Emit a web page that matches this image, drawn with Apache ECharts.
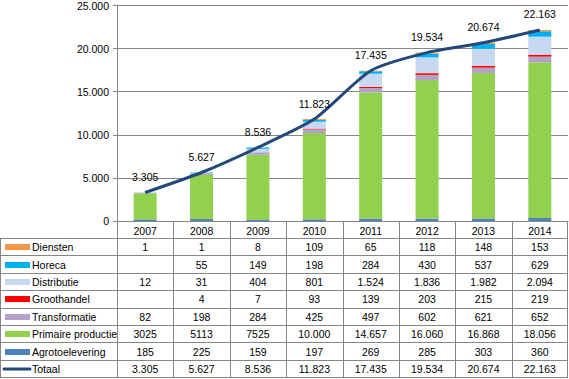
<!DOCTYPE html>
<html><head><meta charset="utf-8">
<script src="https://cdn.jsdelivr.net/npm/echarts@6/dist/echarts.min.js"></script>
<style>html,body{margin:0;padding:0;background:#fff}#c{width:569px;height:379px}</style>
</head><body><div id="c"></div>
<script>
// ---- data ----
const years = ['2007','2008','2009','2010','2011','2012','2013','2014'];
const diensten        = [1, 1, 8, 109, 65, 118, 148, 153];
const horeca          = [null, 55, 149, 198, 284, 430, 537, 629];
const distributie     = [12, 31, 404, 801, 1524, 1836, 1982, 2094];
const groothandel     = [null, 4, 7, 93, 139, 203, 215, 219];
const transformatie   = [82, 198, 284, 425, 497, 602, 621, 652];
const primaire        = [3025, 5113, 7525, 10000, 14657, 16060, 16868, 18056];
const agrotoelevering = [185, 225, 159, 197, 269, 285, 303, 360];
const totaal          = [3305, 5627, 8536, 11823, 17435, 19534, 20674, 22163];
const yMin = 0, yMax = 25000, yStep = 5000;

// ---- styling ----
const FONT = '"Liberation Sans", Arial, sans-serif';
const FS = 10.5;
const GRAY = '#868686';
const labelShift = [[8,-4],[0,0],[0,0],[8,-1],[8,-5],[0,0],[0,0],[0,0]];

function fmt(v){ if(v==null) return ''; return String(v).replace(/\B(?=(\d{3})+(?!\d))/g,'.'); }
function fmtPlain(v){ if(v==null) return ''; return v >= 10000 ? fmt(v) : String(v); }

const rows = [
  {name:'Diensten', data:diensten, color:'#F79646', f:fmt},
  {name:'Horeca', data:horeca, color:'#00B0F0', f:fmt},
  {name:'Distributie', data:distributie, color:'#C6D9F1', f:fmt},
  {name:'Groothandel', data:groothandel, color:'#FF0000', f:fmt},
  {name:'Transformatie', data:transformatie, color:'#B3A2C7', f:fmt},
  {name:'Primaire productie', data:primaire, color:'#92D050', f:fmtPlain},
  {name:'Agrotoelevering', data:agrotoelevering, color:'#4F81BD', f:fmt}
];
const LINECOLOR = '#23497B';

const chart = echarts.init(document.getElementById('c'), null, {renderer:'svg'});

const barSeries = rows.slice().reverse().map(r => ({
  name: r.name, type: 'bar', stack: 'a', barWidth: 23,
  data: r.data, itemStyle: {color: r.color}, animation: false
}));

chart.setOption({
  animation: false,
  textStyle: {fontFamily: FONT},
  grid: {left: 117, right: 1, top: 3, bottom: 158, containLabel: false},
  xAxis: {
    type: 'category', data: years,
    axisLine: {lineStyle: {color: GRAY}},
    axisTick: {show: false},
    axisLabel: {color: '#000', fontSize: FS, fontFamily: FONT, margin: 4}
  },
  yAxis: {
    type: 'value', min: yMin, max: yMax, interval: yStep,
    axisLine: {show: true, lineStyle: {color: GRAY}},
    axisTick: {show: true, length: 4, lineStyle: {color: GRAY}},
    splitLine: {lineStyle: {color: GRAY}},
    axisLabel: {color: '#000', fontSize: FS, fontFamily: FONT, margin: 8, formatter: fmt}
  },
  series: barSeries.concat([{
    name: 'Totaal', type: 'line', smooth: 0.22, symbol: 'circle', symbolSize: 2, showSymbol: true, z: 5,
    lineStyle: {color: LINECOLOR, width: 3},
    itemStyle: {color: 'rgba(0,0,0,0)', borderWidth: 0},
    data: totaal.map((v, i) => ({value: v, label: {offset: labelShift[i]}})),
    label: {show: true, position: 'top', distance: 9, color: '#000', fontSize: FS, fontFamily: FONT,
            formatter: p => fmt(p.value)},
    labelLayout: {hideOverlap: false}
  }])
});

// ---- data table under the axis ----
const c0 = chart.convertToPixel({xAxisIndex: 0}, 0);
const c1 = chart.convertToPixel({xAxisIndex: 0}, 1);
const step = c1 - c0;
const left = c0 - step / 2;
const right = left + step * years.length;
const axisY = Math.round(chart.convertToPixel({yAxisIndex: 0}, 0));
const headBottom = 238, rowH = 17.4;
const tableRows = rows.concat([{name: 'Totaal', data: totaal, color: LINECOLOR, f: fmt, line: true}]);
const bottom = headBottom + rowH * tableRows.length;
const g = [];
const ls = {stroke: GRAY, lineWidth: 1};
for (let k = 0; k <= tableRows.length; k++) {
  const y = Math.round(headBottom + k * rowH) + 0.5;
  g.push({type: 'line', silent: true, shape: {x1: 0, y1: y, x2: right, y2: y}, style: ls});
}
g.push({type: 'line', silent: true, shape: {x1: 0.5, y1: headBottom, x2: 0.5, y2: Math.round(bottom) + 0.5}, style: ls});
for (let i = 0; i <= years.length; i++) {
  const x = Math.round(left + i * step) + (i === years.length ? -0.5 : 0.5);
  g.push({type: 'line', silent: true, shape: {x1: x, y1: axisY, x2: x, y2: Math.round(bottom) + 0.5}, style: ls});
}
tableRows.forEach((r, k) => {
  const cy = headBottom + k * rowH + rowH / 2 + 0.5;
  if (r.line) {
    g.push({type: 'line', silent: true, shape: {x1: 4, y1: cy, x2: 30, y2: cy},
            style: {stroke: r.color, lineWidth: 3, lineCap: 'round'}});
  } else {
    g.push({type: 'rect', silent: true, shape: {x: 5, y: Math.round(cy - 3), width: 25, height: 6},
            style: {fill: r.color}});
  }
  g.push({type: 'text', silent: true, style: {x: 32, y: cy, text: r.name, align: 'left', verticalAlign: 'middle',
          fontSize: FS, fontFamily: FONT, fill: '#000'}});
  r.data.forEach((v, i) => {
    g.push({type: 'text', silent: true, style: {x: left + (i + 0.5) * step, y: cy, text: r.f(v), align: 'center',
            verticalAlign: 'middle', fontSize: FS, fontFamily: FONT, fill: '#000'}});
  });
});
chart.setOption({graphic: {elements: g}});
</script>
</body></html>
